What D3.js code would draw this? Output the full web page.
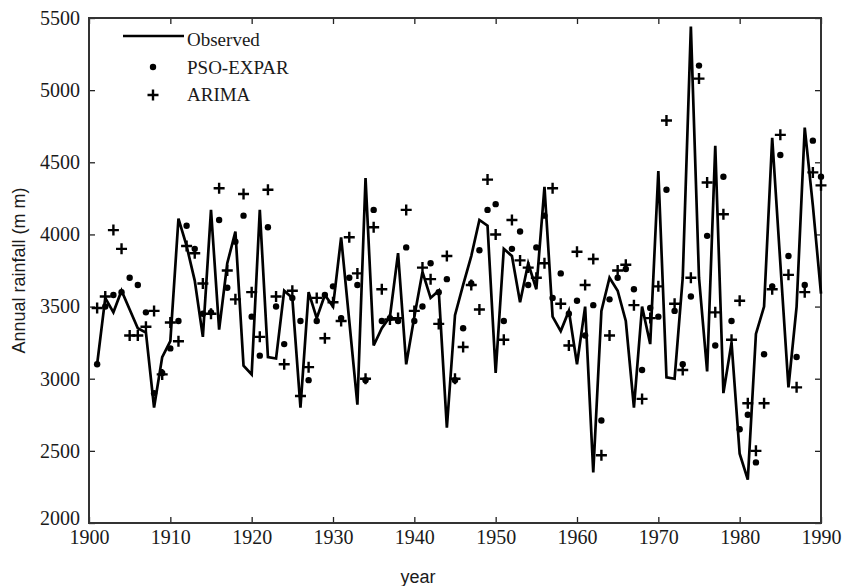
<!DOCTYPE html>
<html><head><meta charset="utf-8">
<script src="https://cdn.jsdelivr.net/npm/d3@7"></script>
<style>body{margin:0;background:#fff}svg{display:block}</style>
</head><body>
<svg id="c" width="844" height="586"></svg>
<script>
const years=[1901,1902,1903,1904,1905,1906,1907,1908,1909,1910,
1911,1912,1913,1914,1915,1916,1917,1918,1919,1920,
1921,1922,1923,1924,1925,1926,1927,1928,1929,1930,
1931,1932,1933,1934,1935,1936,1937,1938,1939,1940,
1941,1942,1943,1944,1945,1946,1947,1948,1949,1950,
1951,1952,1953,1954,1955,1956,1957,1958,1959,1960,
1961,1962,1963,1964,1965,1966,1967,1968,1969,1970,
1971,1972,1973,1974,1975,1976,1977,1978,1979,1980,
1981,1982,1983,1984,1985,1986,1987,1988,1989,1990];
const observed=[3100,3560,3460,3610,3480,3350,3320,2800,3150,3260,
4110,3920,3680,3290,4170,3340,3800,4020,3090,3030,
4170,3150,3140,3610,3560,2800,3600,3420,3580,3500,
3980,3400,2820,4390,3230,3350,3430,3870,3100,3430,
3740,3560,3610,2660,3440,3650,3850,4100,4060,3040,
3900,3850,3530,3800,3620,4330,3430,3330,3470,3100,
3500,2350,3470,3700,3610,3400,2800,3500,3240,4440,
3010,3000,3700,5440,3700,3050,4615,2900,3250,2480,
2300,3310,3500,4670,3800,2940,3500,4740,4200,3590];
const psoExpar=[3100,3500,3580,3600,3700,3650,3460,2900,3040,3210,
3400,4060,3900,3450,3460,4100,3630,3950,4130,3430,
3160,4050,3500,3240,3560,3400,2990,3400,3580,3640,
3420,3700,3650,2990,4170,3400,3420,3400,3910,3400,
3500,3800,3600,3690,2990,3350,3660,3890,4170,4210,
3400,3900,4020,3650,3910,4130,3560,3730,3450,3540,
3300,3510,2710,3550,3700,3760,3620,3060,3490,3430,
4310,3470,3100,3570,5170,3990,3230,4400,3400,2650,
2750,2420,3170,3640,4550,3850,3150,3650,4650,4400];
const arima=[3490,3570,4030,3900,3300,3300,3360,3470,3030,3390,
3260,3920,3870,3660,3450,4320,3750,3550,4280,3600,
3290,4310,3570,3100,3610,2880,3080,3560,3280,3530,
3400,3980,3730,3000,4050,3620,3410,3420,4170,3470,
3770,3690,3380,3850,3000,3220,3650,3480,4380,4000,
3270,4100,3820,3770,3700,3800,4320,3520,3230,3880,
3650,3830,2470,3300,3750,3790,3510,2860,3420,3640,
4790,3520,3060,3700,5080,4360,3460,4140,3270,3540,
2830,2500,2830,3620,4690,3720,2940,3600,4430,4340];
const xTicks=[1900,1910,1920,1930,1940,1950,1960,1970,1980,1990];
const yTicks=[2000,2500,3000,3500,4000,4500,5000,5500];
const legendLabels=["Observed","PSO-EXPAR","ARIMA"];
const xTitle="year";
const yTitle="Annual rainfall (m m)";

const svg=d3.select("#c");
const m={l:89,r:821,t:18,b:523};
const x=d3.scaleLinear().domain([1900,1990]).range([m.l,m.r]);
const y=d3.scaleLinear().domain([2000,5500]).range([m.b,m.t]);
const serif="'Liberation Serif','Times New Roman',serif";
const sans="'Liberation Sans',Arial,sans-serif";
const ink="#1a1a1a";

function styleAxis(g){
  g.select(".domain").remove();
  g.selectAll(".tick line").attr("stroke","#222").attr("stroke-width",1.3);
  g.selectAll(".tick text").attr("fill",ink).style("font-family",serif).style("font-size","20px");
}
svg.append("g").attr("transform",`translate(0,${m.b})`)
  .call(d3.axisBottom(x).tickValues(xTicks).tickFormat(d3.format("d")).tickSize(-6).tickPadding(7)).call(styleAxis);
svg.append("g").attr("transform",`translate(0,${m.t})`)
  .call(d3.axisTop(x).tickValues(xTicks).tickFormat("").tickSize(-6)).call(styleAxis);
const yAxisG=svg.append("g").attr("transform",`translate(${m.l},0)`)
  .call(d3.axisLeft(y).tickValues(yTicks).tickFormat(d3.format("d")).tickSize(-6).tickPadding(9)).call(styleAxis);
yAxisG.selectAll(".tick text").filter(d=>d===yTicks[0]).attr("dy","0.05em");
svg.append("g").attr("transform",`translate(${m.r},0)`)
  .call(d3.axisRight(y).tickValues(yTicks).tickFormat("").tickSize(-6)).call(styleAxis);

svg.append("rect").attr("x",m.l).attr("y",m.t).attr("width",m.r-m.l).attr("height",m.b-m.t)
  .attr("fill","none").attr("stroke","#333").attr("stroke-width",2);

const data=years.map((yr,i)=>({yr,o:observed[i],p:psoExpar[i],a:arima[i]}));

svg.append("path").datum(data)
  .attr("d",d3.line().x(d=>x(d.yr)).y(d=>y(d.o)))
  .attr("fill","none").attr("stroke","#000").attr("stroke-width",2.7).attr("stroke-linejoin","miter");

svg.append("g").selectAll("circle").data(data).join("circle")
  .attr("cx",d=>x(d.yr)).attr("cy",d=>y(d.p)).attr("r",3.2).attr("fill","#000");

const plus=(cx,cy,s)=>`M${cx-s},${cy}H${cx+s}M${cx},${cy-s}V${cy+s}`;
svg.append("g").selectAll("path").data(data).join("path")
  .attr("d",d=>plus(x(d.yr),y(d.a),5.5)).attr("stroke","#000").attr("stroke-width",2.4).attr("fill","none");

// legend
const lg=svg.append("g");
lg.append("line").attr("x1",123).attr("x2",184).attr("y1",36).attr("y2",36).attr("stroke","#000").attr("stroke-width",2.6);
lg.append("circle").attr("cx",153).attr("cy",67).attr("r",3.2).attr("fill","#000");
lg.append("path").attr("d",plus(153,95,5.5)).attr("stroke","#000").attr("stroke-width",2.4);
lg.selectAll("text").data(legendLabels).join("text")
  .attr("x",187).attr("y",(d,i)=>46+i*27.5).text(d=>d)
  .attr("fill",ink).style("font-family",serif).style("font-size","19px");

svg.append("text").attr("x",(m.l+m.r)/2-37).attr("y",583).attr("text-anchor","middle")
  .text(xTitle).attr("fill",ink).style("font-family",sans).style("font-size","18px");
svg.append("text").attr("transform",`translate(25,${(m.t+m.b)/2})rotate(-90)`).attr("text-anchor","middle")
  .text(yTitle).attr("fill",ink).style("font-family",sans).style("font-size","18px");
</script>
</body></html>
